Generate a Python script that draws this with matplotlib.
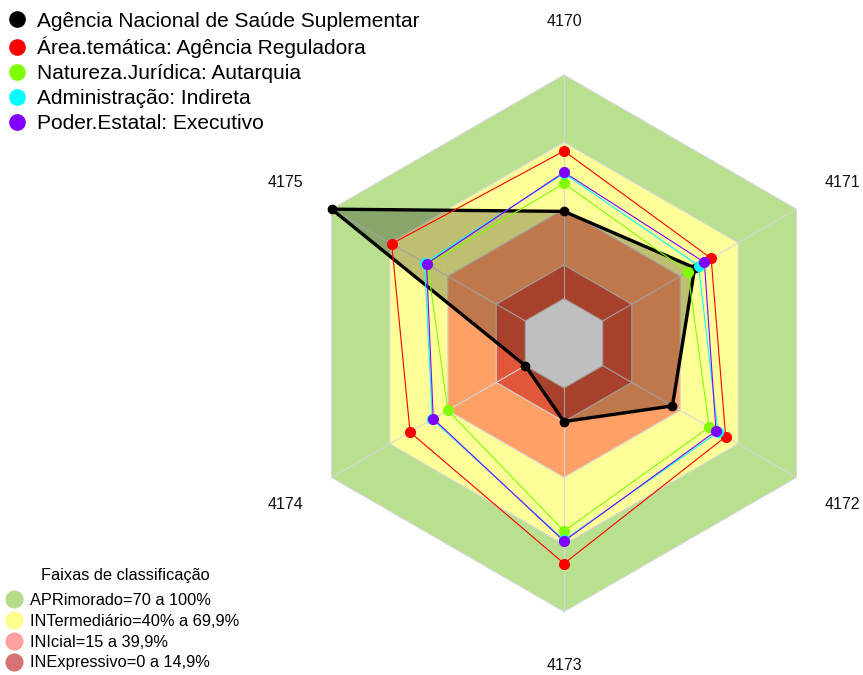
import numpy as np
import matplotlib
matplotlib.use("Agg")
import matplotlib.pyplot as plt
from matplotlib.lines import Line2D

plt.rcParams['font.family'] = ['Liberation Sans', 'DejaVu Sans']

# ---- data ----
axis_labels = ["4170", "4171", "4172", "4173", "4174", "4175"]
series_names = ["Agência Nacional de Saúde Suplementar",
                "Área.temática: Agência Reguladora",
                "Natureza.Jurídica: Autarquia",
                "Administração: Indireta",
                "Poder.Estatal: Executivo"]
series_colors = ["#000000", "#FF0000", "#7FFF00", "#00FFFF", "#8000FF"]
anss = [39, 47.5, 36, 15, 0, 100]
area_tematica = [66, 56, 63.5, 78.5, 59.5, 69]
natureza = [51.5, 44, 55, 64, 40, 50.5]
administracao = [56, 49.5, 59.5, 68, 48, 52]
poder = [56.5, 52.5, 58.5, 68.5, 47.5, 51]
series_values = [anss, area_tematica, natureza, administracao, poder]

band_limits = [100, 70, 40, 15, 0]
band_colors = ["#B9E08F", "#FFFF99", "#FFA066", "#E0573A"]
band_labels = ["APRimorado=70 a 100%", "INTermediário=40% a 69,9%",
               "INIcial=15 a 39,9%", "INExpressivo=0 a 14,9%"]
band_legend_colors = ["#B5DE8A", "#FFFF8C", "#FFA0A0", "#D67272"]

# ---- geometry ----
W, H = 863, 675
fig = plt.figure(figsize=(W / 100, H / 100), dpi=100)
ax = fig.add_axes([0, 0, 1, 1])
ax.set_xlim(0, W)
ax.set_ylim(H, 0)
ax.axis('off')

cx, cy, R = 564.0, 343.3, 268.3
n = len(axis_labels)
ang = np.deg2rad(90 - 60 * np.arange(n))


def rad(v):
    return R * (1 / 6 + 5 / 6 * np.asarray(v, dtype=float) / 100.0)


def xy(vals):
    r = rad(vals)
    return cx + r * np.cos(ang), cy - r * np.sin(ang)


def closed(a):
    return np.append(a, a[0])


# bands
for lim, col in zip(band_limits[:-1], band_colors):
    x, y = xy([lim] * n)
    ax.fill(x, y, color=col, lw=0, zorder=1)
x, y = xy([0] * n)
ax.fill(x, y, color="white", lw=0, zorder=1)

# grid
for lim in band_limits:
    x, y = xy([lim] * n)
    ax.plot(closed(x), closed(y), color="#D6D6D6", lw=0.8, zorder=2)
x0, y0 = xy([0] * n)
x1, y1 = xy([100] * n)
for i in range(n):
    ax.plot([x0[i], x1[i]], [y0[i], y1[i]], color="#D6D6D6", lw=0.8, zorder=2)

# axis labels
xl = cx + 1.2 * R * np.cos(ang)
yl = cy - 1.2 * R * np.sin(ang)
for i, lab in enumerate(axis_labels):
    ax.text(xl[i], yl[i], lab, ha='center', va='center', fontsize=11.5, color="#111111")

# series
x, y = xy(anss)
ax.fill(x, y, color="black", alpha=0.25, lw=0, zorder=3)
for k, (vals, col) in enumerate(zip(series_values, series_colors)):
    x, y = xy(vals)
    lw = 2.4 if k == 0 else 0.8
    ms = 6 if k == 0 else 7
    ax.plot(closed(x), closed(y), color=col, lw=lw, zorder=4 + k)
    ax.plot(x, y, 'o', color=col, ms=ms, mec=col, zorder=10 + k)

# legends
h1 = [Line2D([], [], ls='none', marker='o', color=c, ms=11) for c in series_colors]
leg1 = ax.legend(h1, series_names, loc='upper left', bbox_to_anchor=(-0.0073, 1.0045),
                 frameon=False, fontsize=15, handlelength=0.8, handletextpad=0.6,
                 labelspacing=0.29, borderpad=0.2)
ax.add_artist(leg1)

h2 = [Line2D([], [], ls='none', marker='o', color=c, ms=12) for c in band_legend_colors]
leg2 = ax.legend(h2, band_labels, loc='lower left', bbox_to_anchor=(0.0, -0.010),
                 frameon=False, fontsize=11.8, handlelength=0.3, handletextpad=0.85,
                 labelspacing=0.35, borderpad=0.2, title="Faixas de classificação",
                 title_fontsize=11.8)
leg2._legend_box.align = "center"
leg2._legend_box.sep = 7.5

fig.savefig("out.png", dpi=100)
